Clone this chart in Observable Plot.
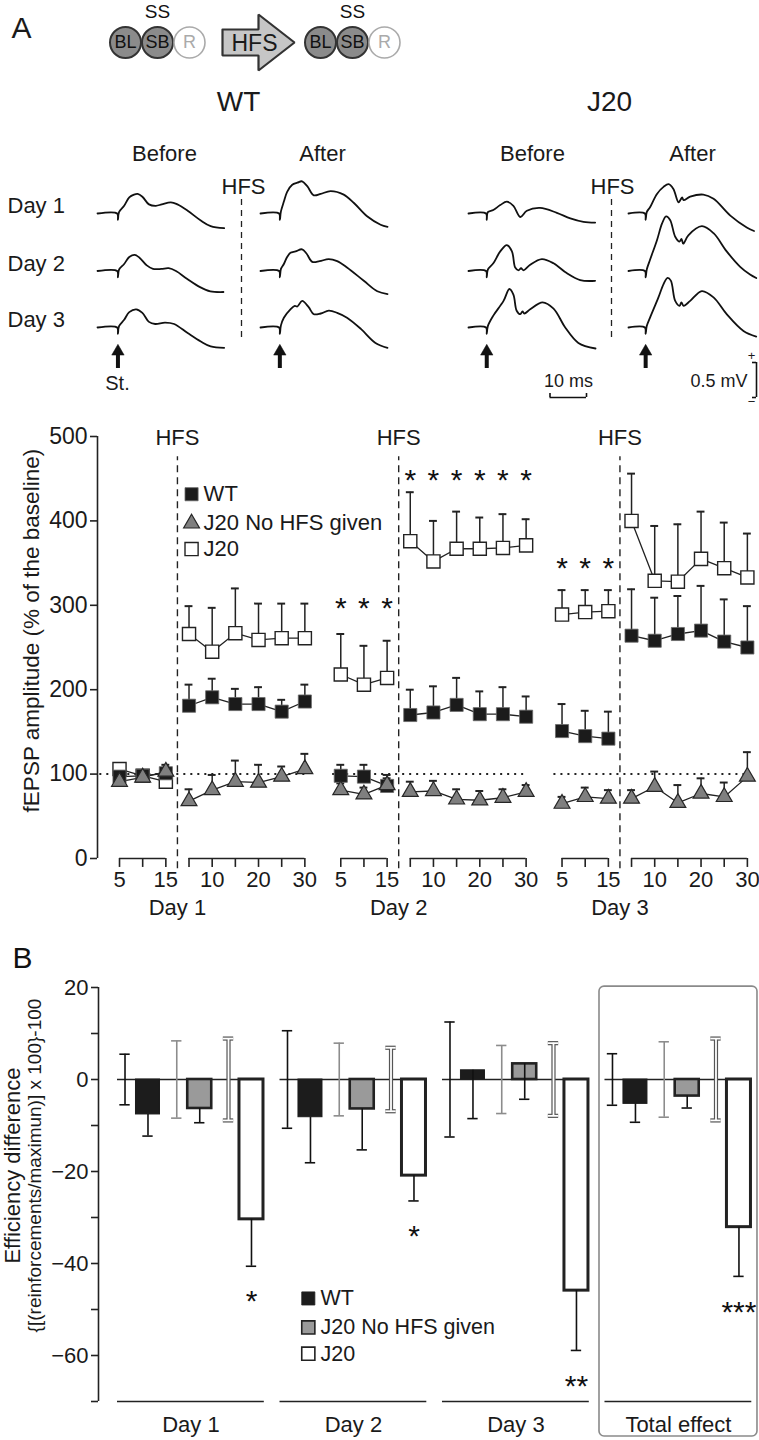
<!DOCTYPE html>
<html>
<head>
<meta charset="utf-8">
<script src="https://cdn.jsdelivr.net/npm/d3@7"></script>
<script src="https://cdn.jsdelivr.net/npm/@observablehq/plot@0.6"></script>
<style>
  html, body { margin: 0; padding: 0; background: #fff; }
  #fig { position: relative; width: 759px; height: 1440px; overflow: hidden; background: #fff; }
  #fig svg { position: absolute; left: 0; }
</style>
</head>
<body>
<div id="fig"></div>
<script>
// ======================= DATA =======================
// ---- Schematic (top of panel A) ----
const schematicNodes = ["BL", "SB", "R"];
const schematicActive = [true, true, false];

// ---- Panel A example traces: [time (ms), fEPSP (mV)] ----
const traceDays = ["Day 1", "Day 2", "Day 3"];
const wtBeforeTraces = [
  [[0,0],[5.4,0],[5.6,-0.09],[5.9,0.02],[7.3,0.11],[8.7,0.23],[10.0,0.27],[11.0,0.28],[12.3,0.24],[14.1,0.13],[16.0,0.11],[17.6,0.13],[20.1,0.16],[21.9,0.13],[24.7,0.04],[28.3,-0.1],[31.0,-0.18],[34.7,-0.21]],
  [[0,0],[5.4,0],[5.6,-0.09],[5.9,0.02],[7.3,0.1],[8.7,0.2],[10.2,0.23],[11.5,0.19],[13.5,0.08],[15.2,0.03],[17.5,0.03],[19.5,0.04],[21.5,0.0],[24.5,-0.11],[28.1,-0.23],[30.9,-0.29],[34.5,-0.3]],
  [[0,0],[5.4,0],[5.6,-0.09],[5.9,0.02],[7.3,0.11],[8.7,0.22],[10.6,0.26],[12.3,0.21],[14.1,0.08],[15.8,0.05],[18.5,0.07],[21.0,0.05],[24.7,-0.08],[28.3,-0.2],[31.0,-0.27],[34.7,-0.29]]
];
const wtAfterTraces = [
  [[0,0],[5.1,0],[5.3,-0.09],[5.6,0.03],[6.4,0.17],[7.3,0.31],[8.7,0.41],[10.1,0.44],[11.4,0.46],[12.8,0.39],[14.6,0.26],[16.5,0.28],[19.2,0.32],[22.8,0.27],[25.6,0.15],[29.2,-0.04],[32.9,-0.16],[34.8,-0.19]],
  [[0,0],[5.1,0],[5.3,-0.09],[5.6,0.03],[6.4,0.1],[7.3,0.2],[8.2,0.26],[9.6,0.28],[11.4,0.31],[12.6,0.25],[14.2,0.13],[16.2,0.14],[18.7,0.17],[21.0,0.14],[23.7,0.05],[28.3,-0.14],[32.0,-0.29],[34.8,-0.33]],
  [[0,0],[5.1,0],[5.3,-0.09],[5.6,0.03],[6.4,0.14],[8.2,0.26],[9.4,0.31],[10.1,0.3],[11.4,0.38],[13.2,0.29],[14.6,0.19],[16.5,0.2],[18.7,0.24],[21.0,0.21],[23.7,0.14],[27.5,-0.02],[31.5,-0.22],[34.8,-0.29]]
];
const j20BeforeTraces = [
  [[0,0],[4.8,0],[5.0,-0.09],[5.3,0.02],[6.8,0.05],[8.7,0.12],[10.5,0.17],[12.3,0.11],[14.2,-0.05],[16.0,0.04],[19.6,0.08],[24.2,0.01],[27.9,-0.07],[31.5,-0.12],[34.7,-0.13]],
  [[0,0],[4.8,0],[5.0,-0.09],[5.3,0.02],[6.8,0.11],[8.7,0.28],[10.5,0.37],[11.9,0.28],[12.8,0.05],[13.7,0.01],[14.4,0.04],[15.1,0.01],[16.9,0.09],[20.1,0.17],[23.3,0.11],[26.9,-0.03],[30.6,-0.13],[34.7,-0.14]],
  [[0,0],[4.8,0],[5.0,-0.09],[5.3,0.02],[6.8,0.17],[9.6,0.38],[11.2,0.55],[12.3,0.47],[13.2,0.24],[14.2,0.19],[14.8,0.23],[15.3,0.2],[16.9,0.26],[20.3,0.36],[23.3,0.27],[26.5,0.0],[30.1,-0.22],[34.8,-0.3]]
];
const j20AfterTraces = [
  [[0,0],[4.5,0],[4.7,-0.09],[5.0,0.02],[5.9,0.09],[7.8,0.28],[9.6,0.38],[11.0,0.42],[12.3,0.35],[13.7,0.16],[14.3,0.2],[14.7,0.23],[15.1,0.19],[16.9,0.24],[20.5,0.27],[23.3,0.21],[27.9,-0.03],[32.4,-0.2],[34.4,-0.25]],
  [[0,0],[4.5,0],[4.7,-0.09],[5.0,0.02],[5.9,0.16],[7.8,0.44],[9.2,0.68],[10.3,0.78],[11.4,0.73],[12.8,0.49],[14.0,0.42],[14.5,0.46],[15.0,0.39],[16.4,0.51],[20.1,0.64],[23.3,0.54],[26.9,0.28],[30.6,0.06],[33.3,-0.05],[35.0,-0.1]],
  [[0,0],[4.5,0],[4.7,-0.09],[5.0,0.02],[5.9,0.14],[8.2,0.43],[9.6,0.62],[10.7,0.71],[11.6,0.67],[12.8,0.38],[14.0,0.31],[14.5,0.36],[15.1,0.31],[16.9,0.38],[20.1,0.52],[23.3,0.43],[26.9,0.19],[31.5,-0.05],[35.0,-0.13]]
];
const scaleBarMs = 10;
const scaleBarMv = 0.5;

// ---- Panel A time course: fEPSP amplitude (% of baseline) ----
const days = ["Day 1", "Day 2", "Day 3"];
const baselineMinutes = [5, 10, 15];
const postMinutes = [5, 10, 15, 20, 25, 30];
const baselineTickLabels = [5, 15];
const postTickLabels = [10, 20, 30];
const seriesNamesA = ["WT", "J20 No HFS given", "J20"];
// each day: 3 baseline values, then 6 post-HFS values
const wtMean = [[97, 98, 101, 181, 191, 183, 183, 174, 186],
                [98, 97, 86, 170, 173, 182, 171, 171, 168],
                [151, 145, 142, 264, 258, 266, 270, 257, 250]];
const wtErr = [[5, 4, 4, 25, 22, 18, 20, 14, 20],
               [13, 14, 13, 30, 31, 32, 27, 32, 24],
               [32, 30, 32, 55, 51, 45, 53, 50, 49]];
const noHfsMean = [[91, 96, 103, 68, 81, 91, 90, 97, 106],
                   [81, 76, 87, 79, 80, 70, 69, 72, 79],
                   [65, 73, 71, 71, 85, 66, 77, 73, 97]];
const noHfsErr = [[4, 5, 8, 14, 18, 25, 21, 12, 18],
                  [8, 8, 8, 12, 12, 12, 11, 10, 8],
                  [8, 11, 10, 10, 18, 21, 18, 17, 29]];
const j20Mean = [[106, 98, 91, 266, 245, 267, 259, 261, 261],
                 [218, 206, 214, 376, 352, 367, 367, 368, 371],
                 [289, 292, 293, 400, 329, 328, 355, 344, 333]];
const j20Err = [[3, 3, 3, 33, 52, 53, 43, 41, 41],
                [48, 46, 44, 58, 48, 44, 37, 40, 31],
                [29, 26, 25, 56, 65, 68, 56, 54, 52]];
// significance stars: [day index, period, star level (% baseline)]
const starsA = [[1, "base", 307], [1, "post", 459], [2, "base", 354]];

// ---- Panel B: efficiency difference ----
const groupsB = ["Day 1", "Day 2", "Day 3", "Total effect"];
const seriesNamesB = ["WT", "J20 No HFS given", "J20"];
const wtCtrlSD = [5.5, 10.6, 12.5, 5.6];
const noHfsCtrlSD = [8.4, 7.9, 7.4, 8.2];
const j20CtrlSD = [8.9, 6.9, 7.9, 8.9];
const wtEff = [-7.6, -8.2, 2.0, -5.3];
const wtEffErr = [4.7, 9.9, 10.5, 4.0];
const noHfsEff = [-6.3, -6.4, 3.4, -3.6];
const noHfsEffErr = [3.1, 8.9, 7.7, 2.6];
const j20Eff = [-30.4, -20.9, -45.9, -32.1];
const j20EffErr = [10.2, 5.5, 13.0, 10.7];
const starsB = ["*", "*", "**", "***"];

// ======================= LAYOUT =======================
const FONT = '"Liberation Sans", Arial, Helvetica, sans-serif';
const INK = "#222";
const fig = document.getElementById("fig");
const baseStyle = {fontFamily: FONT, background: "transparent", overflow: "visible", color: INK};
function place(el, top) { el.style.top = top + "px"; fig.appendChild(el); }

// ---------- Top: schematic + labels (pixel frame) ----------
const TOP_H = 410;
const nodeR = 15.5, nodeGap = 32, nodeY = 42;
const nodeGroupsX = [125, 320];
const nodes = nodeGroupsX.flatMap(gx => schematicNodes.map((n, i) => ({label: n, active: schematicActive[i], x: gx + i * nodeGap})));
const arrowShape = [[222,29],[258,29],[258,14],[294,42],[258,70],[258,55],[222,55],[222,29]].map(([x,y]) => ({x, y}));
const labelsC = [
  {t: "WT", x: 238, y: 102, s: 28}, {t: "J20", x: 609, y: 102, s: 28},
  {t: "Before", x: 164, y: 153, s: 22}, {t: "After", x: 322, y: 153, s: 22},
  {t: "Before", x: 532, y: 153, s: 22}, {t: "After", x: 692, y: 153, s: 22},
  {t: "HFS", x: 243, y: 186, s: 22}, {t: "HFS", x: 612, y: 186, s: 22},
  {t: "St.", x: 117, y: 383, s: 20},
  {t: "10 ms", x: 568, y: 381, s: 18},
  {t: "A", x: 21, y: 28, s: 30},
  {t: "HFS", x: 254, y: 43, s: 23}
];
const dayLabelY = [205, 263, 319];

const annot = Plot.plot({
  width: 759, height: TOP_H, margin: 0,
  x: {domain: [0, 759], range: [0, 759], axis: null},
  y: {domain: [0, TOP_H], range: [0, TOP_H], axis: null},
  style: baseStyle,
  marks: [
    Plot.line(arrowShape, {x: "x", y: "y", fill: "#c6c6c6", stroke: "#333", strokeWidth: 2.2, strokeLinejoin: "miter"}),
    Plot.dot(nodes.filter(d => d.active), {x: "x", y: () => nodeY, r: nodeR, fill: "#8b8b8b", stroke: "#333", strokeWidth: 2}),
    Plot.dot(nodes.filter(d => !d.active), {x: "x", y: () => nodeY, r: nodeR, fill: "#fff", stroke: "#aaa", strokeWidth: 1.6}),
    Plot.text(nodes.filter(d => d.active), {x: "x", y: () => nodeY, text: "label", fontSize: 18, fill: "#111", lineAnchor: "middle"}),
    Plot.text(nodes.filter(d => !d.active), {x: "x", y: () => nodeY, text: "label", fontSize: 18, fill: "#aaa", lineAnchor: "middle"}),
    Plot.text(nodeGroupsX, {x: gx => gx + nodeGap, y: () => 11, text: () => "SS", fontSize: 19, fill: "#111", lineAnchor: "middle"}),
    Plot.text(labelsC, {x: "x", y: "y", text: "t", fontSize: "s", fill: "#1a1a1a", lineAnchor: "middle"}),
    Plot.text(traceDays, {x: () => 7, y: (d, i) => dayLabelY[i], text: d => d, fontSize: 22, fill: "#1a1a1a", textAnchor: "start", lineAnchor: "middle"}),
    Plot.text(["0.5 mV"], {x: () => 747, y: () => 381, fontSize: 18, fill: "#1a1a1a", textAnchor: "end", lineAnchor: "middle"}),
    Plot.text(["+", "\u2212"], {x: () => 751, y: (d, i) => i ? 401 : 355, fontSize: 13, fill: "#1a1a1a", lineAnchor: "middle"}),
    Plot.ruleX([241, 611], {x: d => d, y1: () => 199, y2: () => 340, stroke: INK, strokeWidth: 1.3, strokeDasharray: "6,5"})
  ]
});
place(annot, 0);

// ---------- Top: traces in ms / mV ----------
const PX_PER_MS = 3.65, PX_PER_MV = 70;
const traceCols = [
  {px: 97, traces: wtBeforeTraces},
  {px: 260, traces: wtAfterTraces},
  {px: 468, traces: j20BeforeTraces},
  {px: 628, traces: j20AfterTraces}
];
const traceRowPx = [213, 270.5, 327];
const traceRows = [];
traceCols.forEach((c, ci) => c.traces.forEach((tr, di) => tr.forEach(([t, v]) =>
  traceRows.push({key: ci + "-" + di, x: c.px / PX_PER_MS + t, y: -traceRowPx[di] / PX_PER_MV + v}))));
const stimRows = traceCols.map(c => ({x: c.px / PX_PER_MS + c.traces[0].find(p => p[1] < 0)[0]}));
const mvY = px => -px / PX_PER_MV;
const msBarX0 = 549.5 / PX_PER_MS, mvBarX = 756 / PX_PER_MS, barBaseY = mvY(397);

const traces = Plot.plot({
  width: 759, height: TOP_H, margin: 0,
  x: {domain: [0, 759 / PX_PER_MS], axis: null},
  y: {domain: [-TOP_H / PX_PER_MV, 0], axis: null},
  style: baseStyle,
  marks: [
    Plot.line(traceRows, {x: "x", y: "y", z: "key", stroke: "#111", strokeWidth: 1.8, curve: "catmull-rom"}),
    Plot.ruleX(stimRows, {x: "x", y1: () => mvY(354), y2: () => mvY(368), stroke: "#111", strokeWidth: 4}),
    Plot.dot(stimRows, {x: "x", y: () => mvY(351), symbol: "triangle", r: 4.6, fill: "#111", stroke: "#111", strokeWidth: 0.5}),
    // 10 ms scale bar
    Plot.ruleY([scaleBarMs], {x1: () => msBarX0, x2: d => msBarX0 + d, y: () => barBaseY, stroke: "#111", strokeWidth: 1.6}),
    Plot.ruleX([0, scaleBarMs], {x: d => msBarX0 + d, y1: () => barBaseY, y2: () => barBaseY + 4 / PX_PER_MV, stroke: "#111", strokeWidth: 1.6}),
    // 0.5 mV scale bar
    Plot.ruleX([scaleBarMv], {x: () => mvBarX, y1: () => barBaseY, y2: d => barBaseY + d, stroke: "#111", strokeWidth: 1.6}),
    Plot.ruleY([0, scaleBarMv], {y: d => barBaseY + d, x1: () => mvBarX - 4 / PX_PER_MS, x2: () => mvBarX, stroke: "#111", strokeWidth: 1.6})
  ]
});
place(traces, 0);

// ---------- Panel A: time course ----------
const DAY_STRIDE = 9.55;
const nSlots = baselineMinutes.length + postMinutes.length;
const rowsA = [];
[[seriesNamesA[0], wtMean, wtErr], [seriesNamesA[1], noHfsMean, noHfsErr], [seriesNamesA[2], j20Mean, j20Err]].forEach(([series, M, E]) =>
  M.forEach((vals, d) => vals.forEach((m, i) => rowsA.push({
    series, d, slot: i, period: i < baselineMinutes.length ? "base" : "post", mean: m, err: E[d][i]
  }))));
const ax = r => r.d * DAY_STRIDE + r.slot;
const hfsX = d => d * DAY_STRIDE + baselineMinutes.length - 0.5;
const styleA = {
  "WT": {symbol: "square", r: 7.4, fill: "#1b1b1b", stroke: "#6a6a6a", strokeWidth: 0.8},
  "J20 No HFS given": {symbol: "triangle", r: 5.9, fill: "#7f7f7f", stroke: "#262626", strokeWidth: 1.2},
  "J20": {symbol: "square", r: 7.4, fill: "#fff", stroke: "#222", strokeWidth: 1.4}
};
const dayIdx = days.map((_, d) => ({d}));
const brackets = days.flatMap((_, d) => [{d, a: 0, b: baselineMinutes.length - 1}, {d, a: baselineMinutes.length, b: nSlots - 1}]);
const tickSlots = days.flatMap((_, d) => d3.range(nSlots).map(slot => ({d, slot})));
const tickLabels = days.flatMap((_, d) => [
  ...baselineTickLabels.map(m => ({d, slot: baselineMinutes.indexOf(m), label: String(m)})),
  ...postTickLabels.map(m => ({d, slot: baselineMinutes.length + postMinutes.indexOf(m), label: String(m)}))
]);
const starRowsA = starsA.flatMap(([d, period, level]) =>
  (period === "base" ? d3.range(baselineMinutes.length) : d3.range(baselineMinutes.length, nSlots)).map(slot => ({d, slot, level})));
const legendYA = [431.6, 397, 366.6];
const XMIN_A = -0.95, XMAX_A = 27.58;

const chartA = Plot.plot({
  width: 759, height: 510, marginLeft: 97, marginRight: 1, marginTop: 26, marginBottom: 62,
  x: {domain: [XMIN_A, XMAX_A], axis: null},
  y: {domain: [0, 500], axis: null},
  style: baseStyle,
  marks: [
    Plot.ruleY(dayIdx, {y: () => 100, x1: r => r.d === 0 ? XMIN_A + 0.1 : r.d * DAY_STRIDE - 0.35, x2: r => r.d * DAY_STRIDE + nSlots - 0.9, stroke: INK, strokeWidth: 2, strokeDasharray: "2,5"}),
    Plot.ruleX(dayIdx, {x: r => hfsX(r.d), y1: () => -12, y2: () => 476, stroke: INK, strokeWidth: 1.4, strokeDasharray: "7,5"}),
    Plot.text(dayIdx, {x: r => hfsX(r.d), y: () => 498, text: () => "HFS", fontSize: 22, fill: "#1a1a1a", lineAnchor: "middle"}),
    Plot.line(rowsA, {x: ax, y: "mean", z: r => `${r.series}|${r.d}|${r.period}`, stroke: INK, strokeWidth: 1.3}),
    Plot.ruleX(rowsA, {x: ax, y1: "mean", y2: r => r.mean + r.err, stroke: INK, strokeWidth: 1.5}),
    Plot.ruleY(rowsA, {y: r => r.mean + r.err, x1: r => ax(r) - 0.17, x2: r => ax(r) + 0.17, stroke: INK, strokeWidth: 2}),
    ...["J20", "WT", "J20 No HFS given"].map(s => Plot.dot(rowsA.filter(r => r.series === s), {x: ax, y: "mean", ...styleA[s]})),
    Plot.text(starRowsA, {x: ax, y: "level", text: () => "*", fontSize: 30, fill: "#111", lineAnchor: "middle", dy: 9}),
    // y axis
    Plot.ruleX([XMIN_A], {x: d => d, y1: () => 0, y2: () => 500, stroke: INK, strokeWidth: 1.6}),
    Plot.axisY({ticks: [0, 100, 200, 300, 400, 500], tickSize: 7, tickPadding: 3, fontSize: 23, strokeWidth: 1.6, label: null, stroke: INK, fill: "#1a1a1a"}),
    Plot.text(["fEPSP amplitude (% of the baseline)"], {x: () => XMIN_A, y: () => 270, dx: -66, rotate: -90, fontSize: 22.5, fill: "#1a1a1a", lineAnchor: "middle"}),
    // x axis brackets
    Plot.ruleY(brackets, {y: () => 0, x1: r => r.d * DAY_STRIDE + r.a, x2: r => r.d * DAY_STRIDE + r.b, stroke: INK, strokeWidth: 1.6}),
    Plot.ruleX(tickSlots, {x: ax, y1: () => 0, y2: () => -10.6, stroke: INK, strokeWidth: 1.6}),
    Plot.text(tickLabels, {x: ax, y: () => -26, text: "label", fontSize: 22, fill: "#1a1a1a", lineAnchor: "middle"}),
    Plot.text(days, {x: (d, i) => hfsX(i), y: () => -59, text: d => d, fontSize: 22, fill: "#1a1a1a", lineAnchor: "middle"}),
    // legend
    ...seriesNamesA.map((s, i) => Plot.dot([s], {x: () => 3.11, y: () => legendYA[i], ...styleA[s]})),
    Plot.text(seriesNamesA, {x: () => 3.63, y: (d, i) => legendYA[i], text: d => d, fontSize: 22, fill: "#1a1a1a", textAnchor: "start", lineAnchor: "middle"})
  ]
});
place(chartA, 410);

// ---------- Panel B ----------
const GROUP_STRIDE_B = 3.14, PAIR_OFF = 0.222, BAR_HALF = 0.232, CAP_B = 0.1;
const rowsB = [];
const specsB = [
  [seriesNamesB[0], wtCtrlSD, wtEff, wtEffErr],
  [seriesNamesB[1], noHfsCtrlSD, noHfsEff, noHfsEffErr],
  [seriesNamesB[2], j20CtrlSD, j20Eff, j20EffErr]
];
groupsB.forEach((g, gi) => specsB.forEach(([series, sd, eff, effErr], j) =>
  rowsB.push({group: g, gi, j, series, sd: sd[gi], mean: eff[gi], err: effErr[gi]})));
const pc = r => r.gi * GROUP_STRIDE_B + r.j;
const cx = r => pc(r) - PAIR_OFF;
const bx = r => pc(r) + PAIR_OFF;
const groupIdxB = groupsB.map((g, gi) => ({g, gi}));
const gStart = r => r.gi * GROUP_STRIDE_B - 0.367;
const gEnd = r => r.gi * GROUP_STRIDE_B + 2.47;
const XMIN_B = -0.7343, XMAX_B = 12.039;
const bySeries = s => rowsB.filter(r => r.series === s);
const barStyleB = {
  "WT": {fill: "#1c1c1c", stroke: "#1c1c1c", strokeWidth: 1},
  "J20 No HFS given": {fill: "#9a9a9a", stroke: "#222", strokeWidth: 2.6},
  "J20": {fill: "#fff", stroke: "#222", strokeWidth: 3}
};
const legendYB = [-47.6, -53.9, -59.6];

const errMarks = (data, x, y1, y2, stroke, w, capsBoth) => [
  Plot.ruleX(data, {x, y1, y2, stroke, strokeWidth: w}),
  Plot.ruleY(data, {y: y2, x1: r => x(r) - CAP_B, x2: r => x(r) + CAP_B, stroke, strokeWidth: w}),
  ...(capsBoth ? [Plot.ruleY(data, {y: y1, x1: r => x(r) - CAP_B, x2: r => x(r) + CAP_B, stroke, strokeWidth: w})] : [])
];

const chartB = Plot.plot({
  width: 759, height: 520, marginLeft: 98, marginRight: 0, marginTop: 67, marginBottom: 39,
  x: {domain: [XMIN_B, XMAX_B], axis: null},
  y: {domain: [-70, 20], axis: null},
  style: baseStyle,
  marks: [
    Plot.rect([groupIdxB[3]], {x1: r => r.gi * GROUP_STRIDE_B - 0.473, x2: r => r.gi * GROUP_STRIDE_B + 2.58, y1: () => 20.2, y2: () => -77.6, rx: 5, fill: "none", stroke: "#8a8a8a", strokeWidth: 1.6}),
    Plot.ruleY(groupIdxB, {y: () => 0, x1: gStart, x2: gEnd, stroke: INK, strokeWidth: 1.6}),
    Plot.ruleY(groupIdxB, {y: () => -70, x1: gStart, x2: gEnd, stroke: INK, strokeWidth: 1.4}),
    // control (zero-effect) variability
    ...errMarks(bySeries("WT"), cx, r => -r.sd, r => r.sd, "#111", 1.6, true),
    ...errMarks(bySeries("J20 No HFS given"), cx, r => -r.sd, r => r.sd, "#8c8c8c", 1.6, true),
    ...errMarks(bySeries("J20"), cx, r => -r.sd, r => r.sd, "#555", 4.2, true),
    ...errMarks(bySeries("J20"), cx, r => -r.sd, r => r.sd, "#fff", 1.8, true),
    // bars
    ...seriesNamesB.map(s => Plot.rect(bySeries(s), {x1: r => bx(r) - BAR_HALF, x2: r => bx(r) + BAR_HALF, y1: () => 0, y2: "mean", ...barStyleB[s]})),
    ...errMarks(rowsB, bx, r => r.mean, r => r.mean - r.err, "#111", 1.6, false),
    Plot.text(bySeries("J20"), {x: bx, y: r => r.mean - r.err - 6, text: (r) => starsB[r.gi], fontSize: 30, fill: "#111", lineAnchor: "middle", dy: 8}),
    // y axis
    Plot.ruleX([XMIN_B], {x: d => d, y1: () => -70, y2: () => 20, stroke: INK, strokeWidth: 1.6}),
    Plot.axisY({ticks: d3.range(-70, 21, 10), tickSize: 7, tickPadding: 3, fontSize: 22, strokeWidth: 1.6, label: null, stroke: INK, fill: "#1a1a1a",
      tickFormat: d => d % 20 === 0 ? (d < 0 ? "\u2212" + (-d) : String(d)) : ""}),
    Plot.text(["Efficiency difference"], {x: () => XMIN_B, y: () => -18.7, dx: -86, rotate: -90, fontSize: 22, fill: "#1a1a1a", lineAnchor: "middle"}),
    Plot.text(["{[(reinforcements/maximun)] x 100}-100"], {x: () => XMIN_B, y: () => -18.7, dx: -64, rotate: -90, fontSize: 19, fill: "#1a1a1a", lineAnchor: "middle"}),
    Plot.text(["B"], {x: () => XMIN_B, y: () => 26.3, dx: -76, fontSize: 30, fill: "#111", lineAnchor: "middle"}),
    // group labels
    Plot.text(groupIdxB, {x: r => (gStart(r) + gEnd(r)) / 2, y: () => -75.2, text: "g", fontSize: 22, fill: "#1a1a1a", lineAnchor: "middle"}),
    // legend
    ...seriesNamesB.map((s, i) => Plot.dot([s], {x: () => 3.32, y: () => legendYB[i], symbol: "square", r: 7.4, fill: barStyleB[s].fill, stroke: "#222", strokeWidth: s === "WT" ? 0.8 : 1.6})),
    Plot.text(seriesNamesB, {x: () => 3.556, y: (d, i) => legendYB[i], text: d => d, fontSize: 21.5, fill: "#1a1a1a", textAnchor: "start", lineAnchor: "middle"})
  ]
});
place(chartB, 920);
</script>
</body>
</html>
